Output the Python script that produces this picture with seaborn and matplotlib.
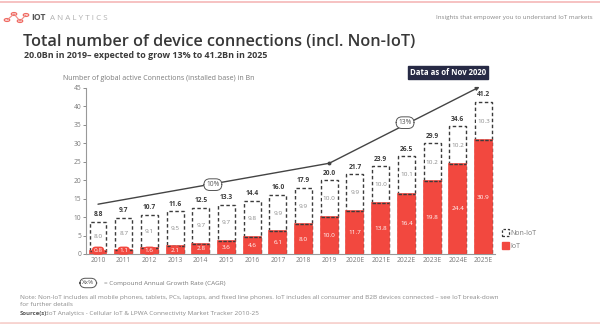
import matplotlib
matplotlib.use("Agg")
import matplotlib.pyplot as plt
import seaborn as sns
import pandas as pd
import numpy as np
from matplotlib.lines import Line2D
from matplotlib.patches import Patch, Circle

# ---------------- data ----------------
years = ["2010", "2011", "2012", "2013", "2014", "2015", "2016", "2017", "2018",
         "2019", "2020E", "2021E", "2022E", "2023E", "2024E", "2025E"]
iot = [0.8, 1.1, 1.6, 2.1, 2.8, 3.6, 4.6, 6.1, 8.0, 10.0, 11.7, 13.8, 16.4, 19.8, 24.4, 30.9]
non_iot = [8.0, 8.7, 9.1, 9.5, 9.7, 9.7, 9.8, 9.9, 9.9, 10.0, 9.9, 10.0, 10.1, 10.2, 10.2, 10.3]
total_labels = ["8.8", "9.7", "10.7", "11.6", "12.5", "13.3", "14.4", "16.0", "17.9",
                "20.0", "21.7", "23.9", "26.5", "29.9", "34.6", "41.2"]
cagr_x = [0.0, 9.0, 14.85]
cagr_y = [13.5, 24.6, 45.3]
cagr_labels = ["10%", "13%"]
cagr_label_x = [4.47, 11.95]
cagr_label_y = [18.8, 35.6]
yticks = [0, 5, 10, 15, 20, 25, 30, 35, 40, 45]

RED = "#f2483f"
DARK = "#3b3b3b"
GRAY = "#7a7a7a"

sns.set_theme(style="white")
plt.rcParams["font.family"] = ["Open Sans", "DejaVu Sans"]

W, H = 600, 324
fig = plt.figure(figsize=(6, 3.24), dpi=100)
fig.patch.set_facecolor("white")


def fx(x):
    return x / W


def fy(y):
    return 1 - y / H


ax = fig.add_axes([fx(86), fy(254), fx(495) - fx(86), fy(88) - fy(254)])

totals = [a + b for a, b in zip(iot, non_iot)]
df = pd.DataFrame({"year": years, "iot": iot, "non_iot": non_iot, "total": totals})

# Non-IoT dashed boxes (full height), then IoT bars over them
sns.barplot(data=df, x="year", y="total", ax=ax, color="white", width=0.66,
            edgecolor=DARK, linewidth=1.0, linestyle=(0, (2.5, 1.8)), zorder=2,
            saturation=1)
n_tot = len(ax.patches)
sns.barplot(data=df, x="year", y="iot", ax=ax, color=RED, width=0.66,
            edgecolor=RED, linewidth=1.2, zorder=3, saturation=1)
iot_patches = ax.patches[n_tot:]
for p in iot_patches:
    ax.plot([p.get_x(), p.get_x() + p.get_width()], [p.get_height()] * 2,
            color=DARK, lw=1.0, ls=(0, (2.5, 1.0)), zorder=4)

for i in range(len(years)):
    ax.text(i, max(iot[i] / 2, 0.9), f"{iot[i]:.1f}", ha="center", va="center",
            fontsize=4.6, color="white", zorder=6,
            bbox=dict(boxstyle="round,pad=0.25,rounding_size=0.6", fc=RED, ec="none"))
    ax.text(i, iot[i] + non_iot[i] / 2, f"{non_iot[i]:.1f}", ha="center", va="center",
            fontsize=4.6, color="#8a8a8a", zorder=6,
            bbox=dict(boxstyle="square,pad=0.1", fc="white", ec="none"))
    ax.text(i, totals[i] + 1.0, total_labels[i], ha="center", va="bottom",
            fontsize=4.8, color=DARK, fontweight="bold", zorder=6)

# CAGR line
ax.plot(cagr_x[:-1], cagr_y[:-1], color="#444444", lw=1.0, zorder=5, clip_on=False)
ax.annotate("", xy=(cagr_x[-1], cagr_y[-1]), xytext=(cagr_x[-2], cagr_y[-2]),
            arrowprops=dict(arrowstyle="-|>", color="#444444", lw=1.0,
                            mutation_scale=5, shrinkA=0, shrinkB=0),
            zorder=5, annotation_clip=False)
ax.plot([cagr_x[1]], [cagr_y[1]], "o", color="#444444", ms=1.8, zorder=5)
for lx, ly, lt in zip(cagr_label_x, cagr_label_y, cagr_labels):
    ax.text(lx, ly, lt, ha="center", va="center", fontsize=4.8, color="#555555", zorder=7,
            bbox=dict(boxstyle="round,pad=0.35,rounding_size=0.9", fc="white",
                      ec="#555555", lw=0.7))

ax.set_xlim(-0.467, 15.45)
ax.set_ylim(0, 45)
ax.set_yticks(yticks)
ax.set_xlabel("")
ax.set_ylabel("")
ax.tick_params(axis="y", labelsize=4.8, colors=GRAY, length=2, width=0.6, pad=1.5,
               left=True)
ax.tick_params(axis="x", labelsize=4.8, colors=GRAY, length=0, pad=2.5)
for s in ["top", "right"]:
    ax.spines[s].set_visible(False)
for s in ["left", "bottom"]:
    ax.spines[s].set_color("#999999")
    ax.spines[s].set_linewidth(0.8)

# legend
handles = [Patch(facecolor="white", edgecolor=DARK, linestyle=(0, (2, 1.5)), linewidth=0.9,
                 label="Non-IoT"),
           Patch(facecolor=RED, edgecolor=RED, label="IoT")]
fig.legend(handles=handles, loc="upper left", bbox_to_anchor=(fx(499), fy(226)),
           frameon=False, fontsize=5, labelcolor=GRAY, handlelength=1.0,
           handleheight=1.2, handletextpad=0.3, labelspacing=0.75, borderaxespad=0)

# ---------------- header / footer ----------------
fig.add_artist(Line2D([0, 1], [fy(1.5), fy(1.5)], color="#f5b8b8", lw=1.2))
fig.add_artist(Line2D([0, 1], [fy(322.5), fy(322.5)], color="#f7d3cf", lw=2.0))

# logo
nodes = [(7, 20), (14, 14), (20, 21), (26, 15)]
for (a, b), (c, d) in zip(nodes[:-1], nodes[1:]):
    fig.add_artist(Line2D([fx(a), fx(c)], [fy(b), fy(d)], color="#f08a84", lw=0.8))
for (a, b) in nodes:
    fig.add_artist(Circle((fx(a), fy(b)), 0.0045, transform=fig.transFigure,
                          fc="white", ec="#f06a62", lw=0.9))
fig.text(fx(31), fy(18), "IOT", fontsize=6.2, color="#555555", fontweight="bold", va="center")
fig.text(fx(50), fy(18), "A N A L Y T I C S", fontsize=5.8, color="#b0b0b0", va="center")
fig.text(fx(593), fy(17), "Insights that empower you to understand IoT markets",
         fontsize=4.5, color="#888888", ha="right", va="center")

fig.text(fx(23), fy(42), "Total number of device connections (incl. Non-IoT)",
         fontsize=11.7, color="#383838", fontweight="semibold", va="center")
fig.text(fx(24), fy(56), "20.0Bn in 2019\u2013 expected to grow 13% to 41.2Bn in 2025",
         fontsize=6.4, color="#3a3a3a", fontweight="bold", va="center")

fig.text(fx(448), fy(72.5), "Data as of Nov 2020", fontsize=5.6, color="white",
         fontweight="bold", ha="center", va="center",
         bbox=dict(boxstyle="square,pad=0.3", fc="#272a45", ec="#272a45"))

fig.text(fx(63), fy(78.5), "Number of global active Connections (installed base) in Bn",
         fontsize=5.0, color=GRAY, va="center")

fig.text(fx(82), fy(283), "Xx%", fontsize=4.6, color="#555555", va="center",
         bbox=dict(boxstyle="round,pad=0.35,rounding_size=0.9", fc="white",
                   ec="#555555", lw=0.7))
fig.text(fx(104), fy(283), "= Compound Annual Growth Rate (CAGR)", fontsize=4.6,
         color=GRAY, va="center")
fig.text(fx(20), fy(297), "Note: Non-IoT includes all mobile phones, tablets, PCs, laptops, "
         "and fixed line phones. IoT includes all consumer and B2B devices connected \u2013 "
         "see IoT break-down", fontsize=4.55, color="#8a8a8a", va="center")
fig.text(fx(20), fy(304), "for further details", fontsize=4.55, color="#8a8a8a", va="center")
fig.text(fx(20), fy(313), "Source(s):", fontsize=4.3, color="#555555", fontweight="bold",
         va="center")
fig.text(fx(47), fy(313), "IoT Analytics - Cellular IoT & LPWA Connectivity Market Tracker 2010-25",
         fontsize=4.55, color="#8a8a8a", va="center")

fig.savefig("out.png", dpi=100, facecolor="white")
